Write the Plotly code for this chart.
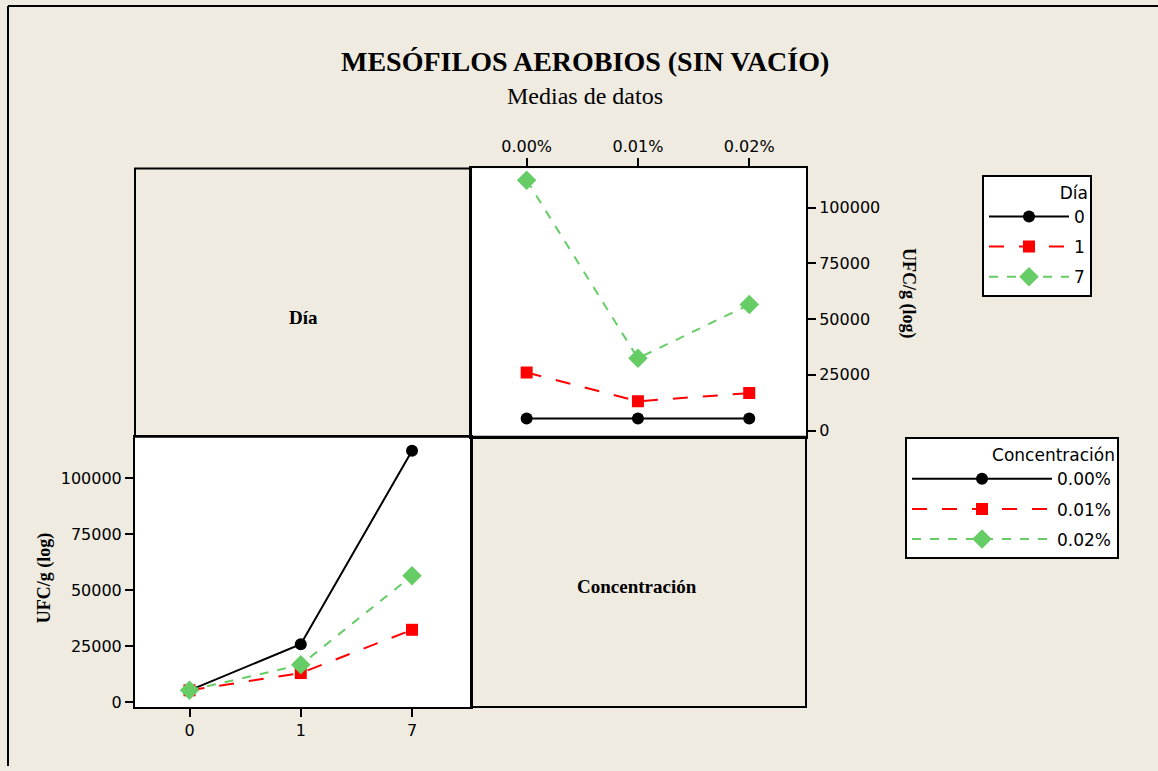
import plotly.graph_objects as go

# ---- data ----
dias = ["0", "1", "7"]
concentraciones = ["0.00%", "0.01%", "0.02%"]
# mean UFC/g by concentration (rows) across days (cols)
conc_000 = [5400, 26000, 112300]
conc_001 = [5400, 13100, 32400]
conc_002 = [5400, 16800, 56500]
y_ticks = [0, 25000, 50000, 75000, 100000]

W, H = 1158, 771
BG = "#EFEBE1"
BLACK = "#000000"
RED = "#FF0000"
GREEN = "#66CC66"

series_styles = [
    dict(color=BLACK, dash="solid", symbol="circle", size=12),
    dict(color=RED, dash="longdash", symbol="square", size=12),
    dict(color=GREEN, dash="dash", symbol="diamond", size=15),
]

conc_matrix = [conc_000, conc_001, conc_002]
# values per day (rows) across concentrations (cols)
dia_matrix = [[conc_matrix[c][d] for c in range(3)] for d in range(3)]

def px(x):
    return x / W

def py(y):
    return 1 - y / H

# panel boundaries (pixels)
xl0, xm, xr1 = 135, 471, 806
yt0, ym, yb1 = 169.5, 439.5, 711.5

fig = go.Figure()

# top-right panel: x=Concentración, series=Día
for i, d in enumerate(dias):
    s = series_styles[i]
    fig.add_trace(go.Scatter(
        x=concentraciones, y=dia_matrix[i], name=d, mode="lines+markers",
        line=dict(color=s["color"], dash=s["dash"], width=2),
        marker=dict(symbol=s["symbol"], size=s["size"], color=s["color"]),
        xaxis="x2", yaxis="y2", legend="legend", legendgroup="d" + d,
    ))

# bottom-left panel: x=Día, series=Concentración
for i, c in enumerate(concentraciones):
    s = series_styles[i]
    fig.add_trace(go.Scatter(
        x=dias, y=conc_matrix[i], name=c, mode="lines+markers",
        line=dict(color=s["color"], dash=s["dash"], width=2),
        marker=dict(symbol=s["symbol"], size=s["size"], color=s["color"]),
        xaxis="x", yaxis="y", legend="legend2", legendgroup="c" + c,
    ))

tickfont = dict(family="DejaVu Sans", size=16, color="black")

axis_common = dict(showgrid=False, zeroline=False, showline=True, linecolor="black",
                   linewidth=2, mirror=True, ticks="outside", ticklen=8, tickwidth=1.5,
                   tickcolor="black", tickfont=tickfont, fixedrange=True)

legfont = dict(family="DejaVu Sans", size=17, color="black")

fig.update_layout(
    width=W, height=H,
    margin=dict(l=0, r=0, t=0, b=0),
    paper_bgcolor=BG, plot_bgcolor="white",
    showlegend=True,
    xaxis=dict(domain=[px(xl0), px(xm)], anchor="y", type="category",
               range=[-0.49, 2.53], **axis_common),
    yaxis=dict(domain=[py(yb1), py(ym)], anchor="x", range=[-2000, 118600],
               tickvals=y_ticks, ticktext=[str(v) for v in y_ticks], **axis_common),
    xaxis2=dict(domain=[px(xm), px(xr1)], anchor="y2", type="category", side="top",
                range=[-0.5, 2.51], **axis_common),
    yaxis2=dict(domain=[py(ym), py(yt0)], anchor="x2", side="right", range=[-2760, 117600],
                tickvals=y_ticks, ticktext=[str(v) for v in y_ticks], **axis_common),
    legend=dict(
        title=dict(text="Día", side="top right", font=legfont),
        x=px(982), y=py(176), xanchor="left", yanchor="top",
        bgcolor="white", bordercolor="black", borderwidth=2,
        font=legfont, itemwidth=80, tracegroupgap=5,
    ),
    legend2=dict(
        title=dict(text="Concentración", side="top right", font=legfont),
        x=px(905), y=py(440), xanchor="left", yanchor="top",
        bgcolor="white", bordercolor="black", borderwidth=2,
        font=legfont, itemwidth=140, tracegroupgap=5,
    ),
)

shapes = [
    # outer frame (left and top edges visible)
    dict(type="line", xref="paper", yref="paper", x0=px(8), y0=py(6), x1=px(8), y1=0,
         line=dict(color="black", width=2)),
    dict(type="line", xref="paper", yref="paper", x0=px(8), y0=py(6), x1=1, y1=py(6),
         line=dict(color="black", width=2)),
    # top-left empty panel
    dict(type="rect", xref="paper", yref="paper", x0=px(xl0), x1=px(xm), y0=py(ym), y1=py(yt0),
         line=dict(color="black", width=2), fillcolor="rgba(0,0,0,0)"),
    # bottom-right empty panel
    dict(type="rect", xref="paper", yref="paper", x0=px(xm), x1=px(xr1), y0=py(yb1), y1=py(ym),
         line=dict(color="black", width=2), fillcolor="rgba(0,0,0,0)"),
]
fig.update_layout(shapes=shapes)

serif = "Liberation Serif"
annotations = [
    dict(text="<b>MESÓFILOS AEROBIOS (SIN VACÍO)</b>", x=px(585), y=py(62), xref="paper", yref="paper",
         showarrow=False, font=dict(family=serif, size=28, color="black"), xanchor="center", yanchor="middle"),
    dict(text="Medias de datos", x=px(585), y=py(97), xref="paper", yref="paper",
         showarrow=False, font=dict(family=serif, size=24, color="black"), xanchor="center", yanchor="middle"),
    dict(text="<b>Día</b>", x=px(303), y=py(320), xref="paper", yref="paper",
         showarrow=False, font=dict(family=serif, size=19, color="black"), xanchor="center", yanchor="middle"),
    dict(text="<b>Concentración</b>", x=px(637), y=py(590), xref="paper", yref="paper",
         showarrow=False, font=dict(family=serif, size=19, color="black"), xanchor="center", yanchor="middle"),
    dict(text="<b>UFC/g (log)</b>", x=px(909), y=py(295), xref="paper", yref="paper", textangle=90,
         showarrow=False, font=dict(family=serif, size=18, color="black"), xanchor="center", yanchor="middle"),
    dict(text="<b>UFC/g (log)</b>", x=px(44), y=py(582), xref="paper", yref="paper", textangle=-90,
         showarrow=False, font=dict(family=serif, size=18, color="black"), xanchor="center", yanchor="middle"),
]
fig.update_layout(annotations=annotations)

fig.write_html("out.html", config={"displayModeBar": False},
               post_script="document.body.style.margin='0';document.body.style.overflow='hidden';")
